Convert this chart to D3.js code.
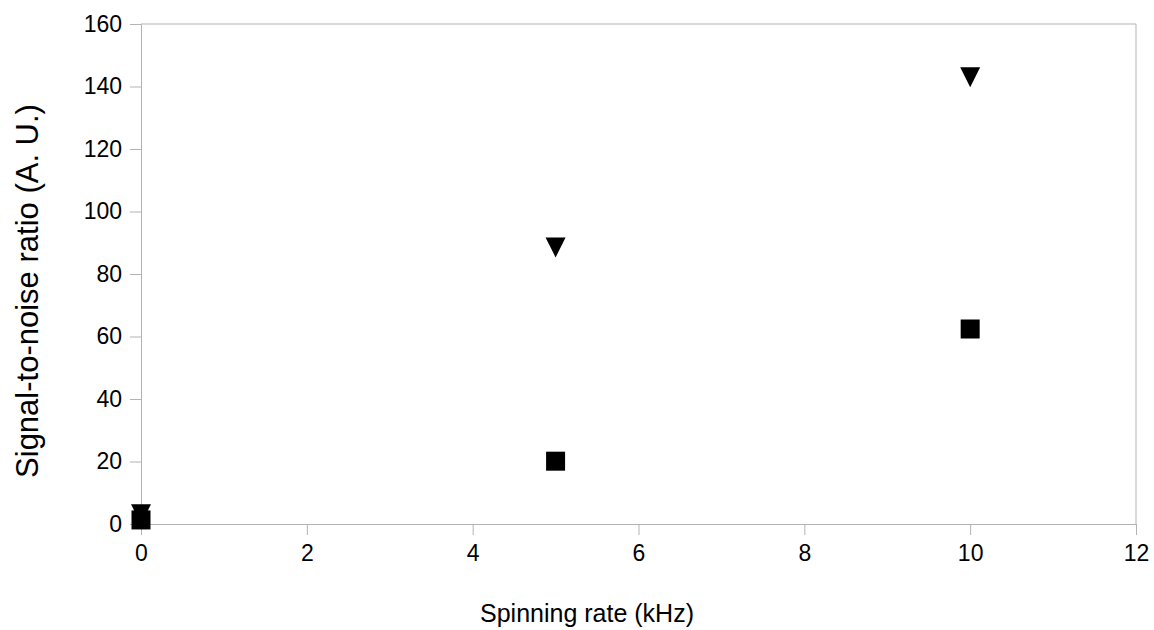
<!DOCTYPE html>
<html>
<head>
<meta charset="utf-8">
<script src="https://cdn.jsdelivr.net/npm/d3@7"></script>
<style>
  body { margin: 0; background: #fff; }
  svg { font-family: "Liberation Sans", Arial, sans-serif; }
</style>
</head>
<body>
<svg id="svg"></svg>
<script>
const rates = [0, 5, 10];
const squareValues = [1.3, 20.1, 62.4];
const triangleValues = [3.1, 88.5, 143];
const xTicks = [0, 2, 4, 6, 8, 10, 12];
const yTicks = [0, 20, 40, 60, 80, 100, 120, 140, 160];

const width = 1154, height = 630;
const margin = {left: 141, right: 18, top: 24, bottom: 106};
const grey = '#b3b3b3';

const svg = d3.select('#svg')
  .attr('width', width)
  .attr('height', height);

const x = d3.scaleLinear().domain([0, 12]).range([margin.left, width - margin.right]);
const y = d3.scaleLinear().domain([0, 160]).range([height - margin.bottom, margin.top]);

// plot frame (top and right edges)
svg.append('path')
  .attr('d', `M${x(0)},${y(160)}H${x(12)}V${y(0)}`)
  .attr('fill', 'none')
  .attr('stroke', grey)
  .attr('stroke-width', 1);

const xAxis = svg.append('g')
  .attr('transform', `translate(0,${y(0)})`)
  .call(d3.axisBottom(x).tickValues(xTicks).tickSize(11).tickPadding(10).tickFormat(d3.format('d')));

const yAxis = svg.append('g')
  .attr('transform', `translate(${x(0)},0)`)
  .call(d3.axisLeft(y).tickValues(yTicks).tickSize(11).tickPadding(8).tickFormat(d3.format('d')));

[xAxis, yAxis].forEach(g => {
  g.selectAll('.domain').attr('stroke', grey);
  g.selectAll('.tick line').attr('stroke', grey);
  g.selectAll('.tick text')
    .attr('fill', '#000')
    .style('font-size', '23px')
    .style('font-family', '"Liberation Sans", Arial, sans-serif');
});

// squares
const sq = 19;
svg.selectAll('rect.sq')
  .data(rates.map((r, i) => ({r, v: squareValues[i]})))
  .enter()
  .append('rect')
    .attr('class', 'sq')
    .attr('x', d => x(d.r) - sq / 2)
    .attr('y', d => y(d.v) - sq / 2)
    .attr('width', sq)
    .attr('height', sq)
    .attr('fill', '#000');

// down triangles
const tri = 20;
svg.selectAll('path.tri')
  .data(rates.map((r, i) => ({r, v: triangleValues[i]})))
  .enter()
  .append('path')
    .attr('class', 'tri')
    .attr('d', d => {
      const cx = x(d.r), cy = y(d.v);
      return `M${cx - tri / 2},${cy - tri / 2}H${cx + tri / 2}L${cx},${cy + tri / 2}Z`;
    })
    .attr('fill', '#000');

svg.append('text')
  .attr('x', 587)
  .attr('y', 622)
  .attr('text-anchor', 'middle')
  .style('font-size', '25px')
  .text('Spinning rate (kHz)');

svg.append('text')
  .attr('transform', 'translate(38,291) rotate(-90)')
  .attr('text-anchor', 'middle')
  .style('font-size', '31px')
  .text('Signal-to-noise ratio (A. U.)');
</script>
</body>
</html>
